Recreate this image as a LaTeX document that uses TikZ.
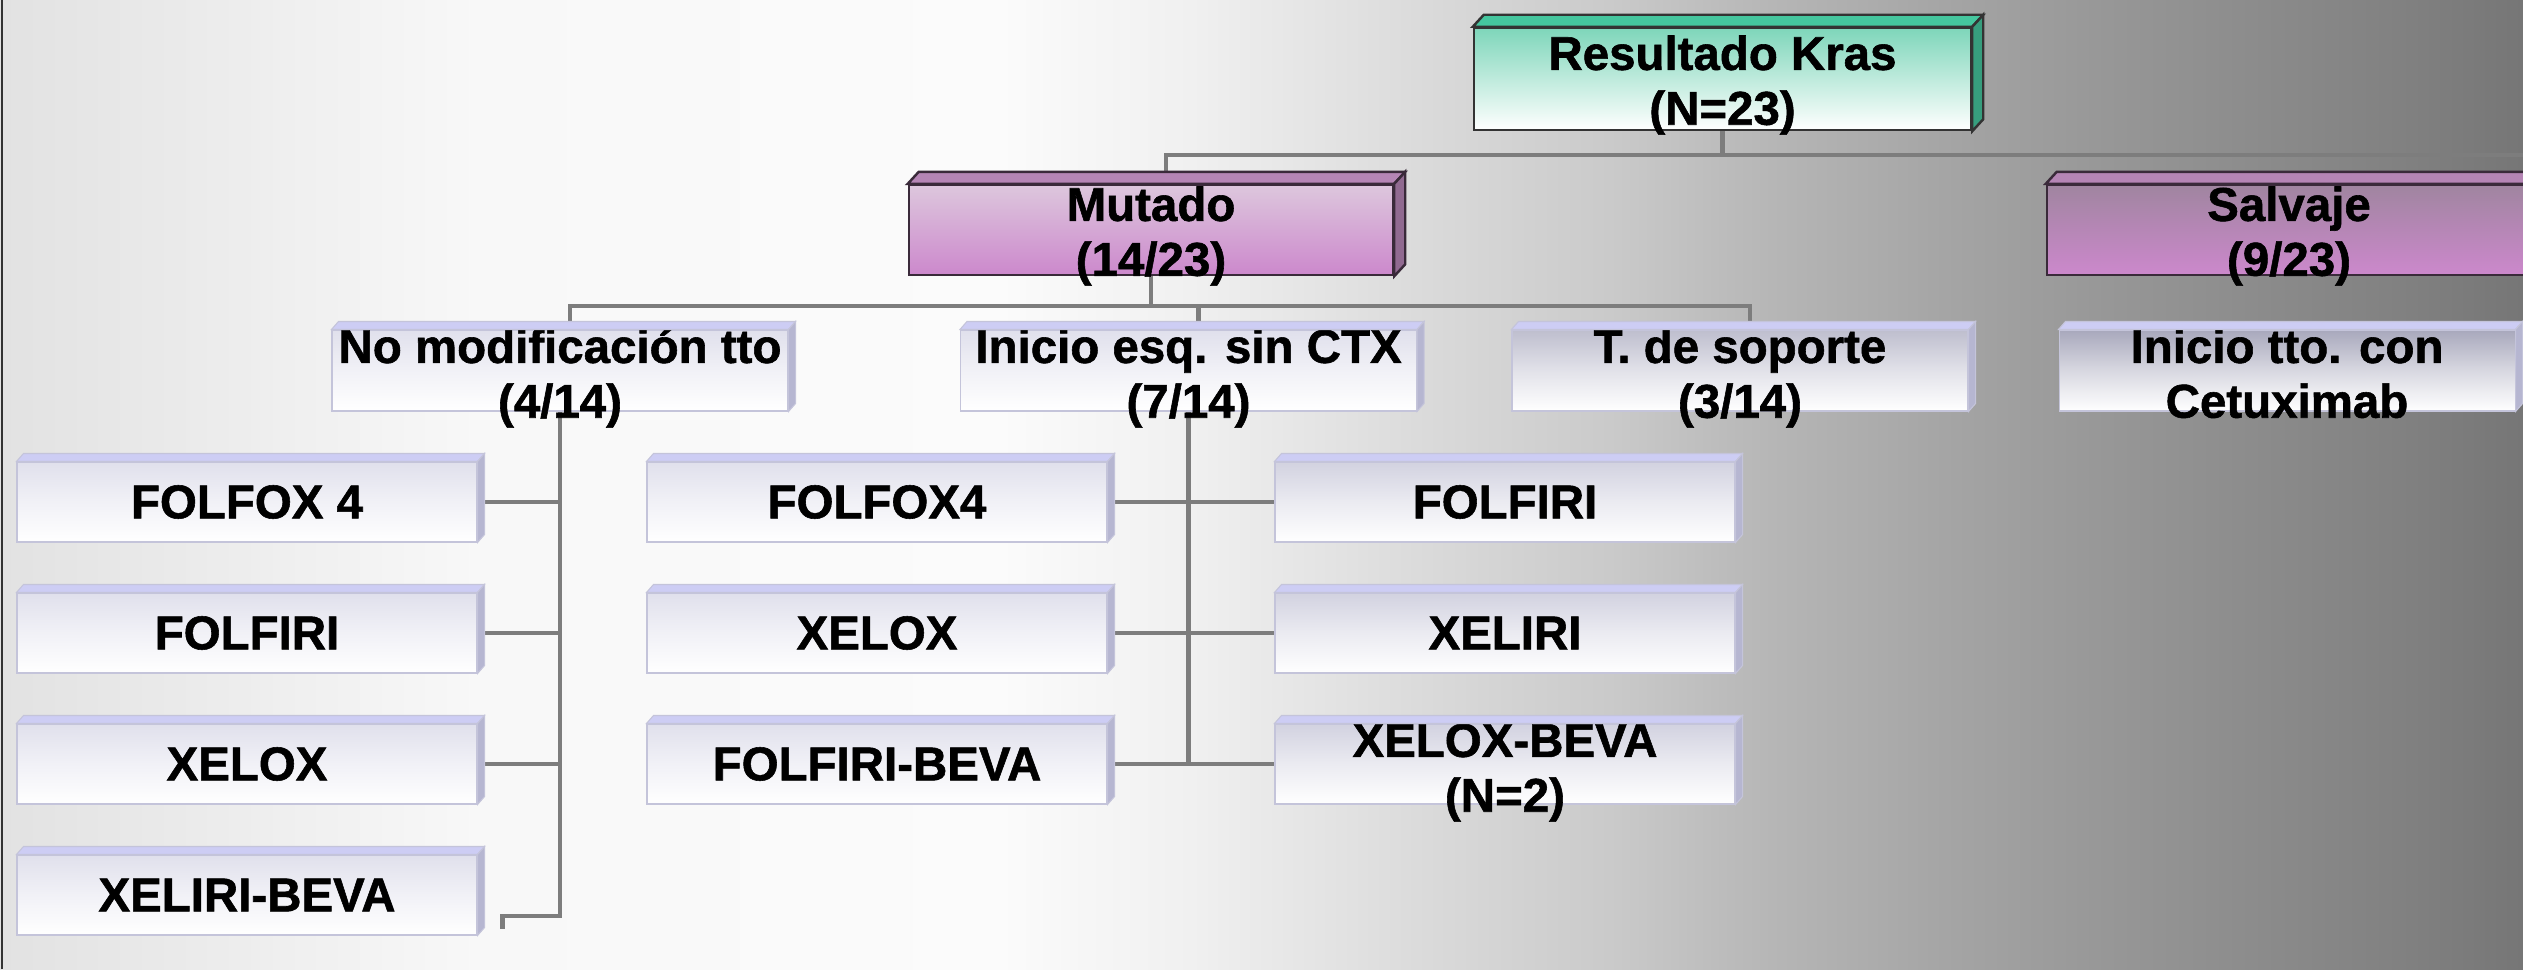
\documentclass[tikz,border=0pt]{standalone}
\usepackage{fontspec}
\setmainfont{Liberation Sans}[BoldFeatures={FakeBold=1.2}]
\usetikzlibrary{backgrounds}

% slide colours
\definecolor{bgA}{HTML}{E2E2E2}
\definecolor{bgB}{HTML}{F8F8F8}
\definecolor{bgC}{HTML}{FBFBFB}
\definecolor{bgD}{HTML}{F0F0F0}
\definecolor{bgE}{HTML}{D8D8D8}
\definecolor{bgF}{HTML}{CACACA}
\definecolor{bgG}{HTML}{B6B6B6}
\definecolor{bgH}{HTML}{A6A6A6}
\definecolor{bgI}{HTML}{989898}
\definecolor{bgJ}{HTML}{8C8C8C}
\definecolor{bgK}{HTML}{808080}
\definecolor{bgL}{HTML}{767676}
\definecolor{krasTop}{HTML}{7ED6BA}
\definecolor{krasEdge}{HTML}{45C69E}
\definecolor{mutTop}{HTML}{DDC7DD}
\definecolor{salTop}{HTML}{A085A0}
\definecolor{purpBot}{HTML}{CC88CC}
\definecolor{purpEdge}{HTML}{B585B5}
\definecolor{purpLine}{HTML}{3A2A3A}
\definecolor{lavEdge}{HTML}{CDCDF4}
\definecolor{lavLine}{HTML}{C4C4DA}
\definecolor{kidTopA}{HTML}{E0E0EC}
\definecolor{kidTopB}{HTML}{D2D2E0}
\definecolor{kidTopC}{HTML}{BEBECE}
\definecolor{kidTopD}{HTML}{A8A8BC}
\definecolor{connGray}{HTML}{7D7D7D}

\pgfdeclarehorizontalshading{slidebg}{100bp}{color(0bp)=(bgA); color(25bp)=(bgA);
  color(34.5bp)=(bgB); color(44.8bp)=(bgC); color(48.6bp)=(bgD); color(53.7bp)=(bgE);
  color(56.9bp)=(bgF); color(60.1bp)=(bgG); color(63.3bp)=(bgH); color(66.5bp)=(bgI);
  color(69.6bp)=(bgJ); color(72.8bp)=(bgK); color(75bp)=(bgL); color(100bp)=(bgL)}

\newcommand\twoln[2]{\begin{tabular}{@{}c@{}}#1\\#2\end{tabular}}

\begin{document}
\begin{tikzpicture}[
    txt/.style={font=\fontsize{13.5}{15.6}\selectfont\bfseries, inner sep=0pt, align=center},
    conn/.style={draw=connGray, line width=1.2pt},
    krasbox/.style={txt, draw=black!80, line width=0.7pt, top color=krasTop, bottom color=white,
        minimum width=4.97cm, minimum height=1.02cm, text height=0.71cm, text depth=0.31cm},
    purpbox/.style={txt, draw=purpLine, line width=0.7pt, top color=#1, bottom color=purpBot,
        minimum width=4.84cm, minimum height=0.90cm, text height=0.65cm, text depth=0.25cm},
    lvlbox/.style={txt, draw=lavLine, line width=0.3pt, top color=#1, bottom color=white,
        middle color=#1!45!white, minimum width=4.56cm, minimum height=0.81cm,
        text height=0.62cm, text depth=0.19cm},
    kidbox/.style={txt, draw=lavLine, line width=0.3pt, top color=#1, bottom color=white,
        middle color=#1!45!white, minimum width=4.60cm, minimum height=0.80cm},
    kidtwo/.style={kidbox=#1, text height=0.62cm, text depth=0.18cm},
    ktop/.style={fill=krasEdge, draw=black!80, line width=0.7pt},
    kside/.style={fill=krasEdge!80!black, draw=black!80, line width=0.7pt},
    ptop/.style={fill=purpEdge, draw=purpLine, line width=0.7pt},
    pside/.style={fill=purpEdge!80!black, draw=purpLine, line width=0.7pt},
    ltop/.style={fill=lavEdge, draw=lavLine, line width=0.3pt},
    lside/.style={fill=lavEdge!70!gray, draw=lavLine, line width=0.3pt}
]
    \useasboundingbox (0,0) rectangle (25.23,9.69);

    % Slide background
    \begin{scope}[on background layer]
        \shade[shading=slidebg] (0,0) rectangle (25.23,9.69);
    \end{scope}
    \draw[black!80, line width=0.8pt] (0.02,0) -- (0.02,9.69);

    % Top levels
    \node[krasbox] (kras) at (17.225, 8.90) {\twoln{Resultado Kras}{(N=23)}};
    \node[purpbox=mutTop] (mutado) at (11.51, 7.39) {\twoln{Mutado}{(14/23)}};
    \node[purpbox=salTop] (salvaje) at (22.89, 7.39) {\twoln{Salvaje}{(9/23)}};

    % Second level
    \node[lvlbox=kidTopA] (nomod)   at (5.60, 5.985)  {\twoln{No modificación tto}{(4/14)}};
    \node[lvlbox=kidTopA] (iniesq)  at (11.885, 5.985) {\twoln{Inicio esq. sin CTX}{(7/14)}};
    \node[lvlbox=kidTopC] (soporte) at (17.40, 5.985)  {\twoln{T. de soporte}{(3/14)}};
    \node[lvlbox=kidTopD] (initto)  at (22.87, 5.985)  {\twoln{Inicio tto. con}{Cetuximab}};

    % Treatment schemes
    \foreach \n/\t [count=\i from 0] in {fxA/FOLFOX 4, fiA/FOLFIRI, xoA/XELOX, xbA/XELIRI-BEVA}
        \node[kidbox=kidTopA] (\n) at (2.47, 4.67-1.31*\i) {\t};
    \foreach \n/\t [count=\i from 0] in {fxB/FOLFOX4, xoB/XELOX, fbB/FOLFIRI-BEVA}
        \node[kidbox=kidTopA] (\n) at (8.77, 4.67-1.31*\i) {\t};
    \foreach \n/\t [count=\i from 0] in {fiC/FOLFIRI, xiC/XELIRI}
        \node[kidbox=kidTopB] (\n) at (15.05, 4.67-1.31*\i) {\t};
    \node[kidtwo=kidTopB] (xbC) at (15.05, 2.05) {\twoln{XELOX-BEVA}{(N=2)}};

    % 3D edges
    \foreach \n/\a/\b in {kras/ktop/kside, mutado/ptop/pside, salvaje/ptop/pside} {
        \filldraw[\a] (\n.north west) -- ++(0.11,0.12) -- ([shift={(0.11,0.12)}]\n.north east) -- (\n.north east) -- cycle;
        \filldraw[\b] (\n.north east) -- ++(0.11,0.12) -- ([shift={(0.11,0.12)}]\n.south east) -- (\n.south east) -- cycle;
    }
    \foreach \n in {nomod, iniesq, soporte, initto, fxA, fiA, xoA, xbA, fxB, xoB, fbB, fiC, xiC, xbC} {
        \filldraw[ltop] (\n.north west) -- ++(0.07,0.08) -- ([shift={(0.07,0.08)}]\n.north east) -- (\n.north east) -- cycle;
        \filldraw[lside] (\n.north east) -- ++(0.07,0.08) -- ([shift={(0.07,0.08)}]\n.south east) -- (\n.south east) -- cycle;
    }

    % Connectors
    \begin{scope}[on background layer]
        \coordinate (busend) at (25.23, 8.14);
        \draw[conn] (kras.south) -- (kras.south |- busend);
        \draw[conn] ([shift={(0.15,0.12)}]mutado.north) |- (busend);

        \draw[conn] (mutado.south) -- ++(0,-0.30) coordinate (mbus);
        \draw[conn] ([shift={(0.10,0.08)}]nomod.north) |- (mbus) -| ([shift={(0.10,0.08)}]soporte.north);
        \draw[conn] ([shift={(0.10,0.08)}]iniesq.north) -- ([xshift=0.10cm]iniesq.north |- mbus);

        \draw[conn] (nomod.south) |- ([shift={(0.25,-0.21)}]xbA.east) -- ++(0,-0.13);
        \foreach \n in {fxA, fiA, xoA}
            \draw[conn] ([xshift=0.07cm]\n.east) -- (\n.east -| nomod.south);

        \draw[conn] (iniesq.south) -- (iniesq.south |- fbB.east);
        \foreach \a/\b in {fxB/fiC, xoB/xiC, fbB/xbC}
            \draw[conn] ([xshift=0.07cm]\a.east) -- (\b.west);
    \end{scope}
\end{tikzpicture}
\end{document}
